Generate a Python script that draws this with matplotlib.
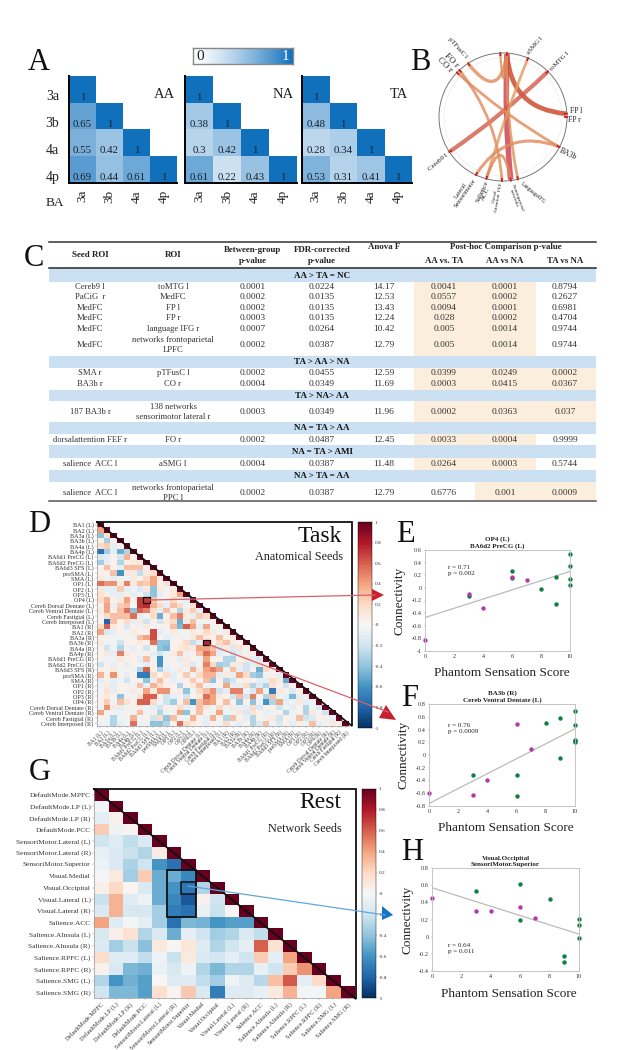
from matplotlib import pyplot as plt
from matplotlib.colors import LinearSegmentedColormap
from matplotlib.patches import Rectangle, PathPatch, Circle, Polygon
from matplotlib.path import Path
import numpy as np

plt.rcParams['font.family'] = ['Liberation Serif', 'DejaVu Serif']

W, H = 625, 1050

# panel A
ba_labels = ['3a', '3b', '4a', '4p']
aa_vals = [[1], [0.65, 1], [0.55, 0.42, 1], [0.69, 0.44, 0.61, 1]]
na_vals = [[1], [0.38, 1], [0.3, 0.42, 1], [0.61, 0.22, 0.43, 1]]
ta_vals = [[1], [0.48, 1], [0.28, 0.34, 1], [0.53, 0.31, 0.41, 1]]

# panel B, angle clockwise from the top
node_names = ['pTFusC', 'FO', 'CO', 'PaCiG', 'MedFC', 'aSMG', 'toMTG', 'FPl', 'FPr', 'BA3b',
              'IFG', 'LPFC', 'FEF', 'ACC', 'Lat', 'Cereb']
node_angles = [-33, -43, -46, -2.4, 3.6, 23, 44.6, 87, 90, 118, 166.5, 173, 181, 195, 205, 237]
chord_from = ['MedFC', 'MedFC', 'MedFC', 'pTFusC', 'PaCiG', 'Cereb', 'CO', 'FO', 'aSMG', 'Lat', 'ACC']
chord_to = ['FPl', 'LPFC', 'IFG', 'MedFC', 'MedFC', 'toMTG', 'BA3b', 'FEF', 'ACC', 'BA3b', 'LPFC']
chord_width = [3.4, 4.0, 2.0, 2.4, 1.6, 3.0, 2.0, 2.0, 2.0, 2.2, 2.0]
chord_color = ['#C8431F', '#C93A4A', '#E0925A', '#E08A58', '#E08A58', '#D45A48', '#E0885A', '#E0885A', '#E39A60', '#E0885A', '#E0885A']

# panel C
seed_col = ['Cereb9 l', 'PaCiG  r', 'MedFC', 'MedFC', 'MedFC', 'MedFC', 'SMA r', 'BA3b r', '187 BA3b r',
            'dorsalattention FEF r', 'salience  ACC l', 'salience  ACC l']
roi_col = ['toMTG l', 'MedFC', 'FP l', 'FP r', 'language IFG r', 'networks frontoparietal\nLPFC', 'pTFusC l', 'CO r',
           '138 networks\nsensorimotor lateral r', 'FO r', 'aSMG l', 'networks frontoparietal\nPPC l']
between_col = ['0.0001', '0.0002', '0.0002', '0.0003', '0.0007', '0.0002', '0.0002', '0.0004', '0.0003', '0.0002', '0.0004', '0.0002']
fdr_col = ['0.0224', '0.0135', '0.0135', '0.0135', '0.0264', '0.0387', '0.0455', '0.0349', '0.0349', '0.0487', '0.0387', '0.0387']
anova_col = ['14.17', '12.53', '13.43', '12.24', '10.42', '12.79', '12.59', '11.69', '11.96', '12.45', '11.48', '12.79']
aa_ta_col = ['0.0041', '0.0557', '0.0094', '0.028', '0.005', '0.005', '0.0399', '0.0003', '0.0002', '0.0033', '0.0264', '0.6776']
aa_na_col = ['0.0001', '0.0002', '0.0001', '0.0002', '0.0014', '0.0014', '0.0249', '0.0415', '0.0363', '0.0004', '0.0003', '0.001']
ta_na_col = ['0.8794', '0.2627', '0.6981', '0.4704', '0.9744', '0.9744', '0.0002', '0.0367', '0.037', '0.9999', '0.5744', '0.0009']
row_y = [287, 297, 308, 318, 329, 345, 373, 384, 412, 440, 464, 493]
band_text = ['AA > TA = NC', 'TA > AA > NA', 'TA > NA> AA', 'NA = TA > AA', 'NA = TA > AMI', 'NA > TA = AA']
band_y = [(269, 282), (356, 368), (390, 401), (422, 434), (445, 458), (470, 482)]
# which p-value columns are shaded (x0, x1) over (y0, y1)
shade_boxes = [(414, 536, 282, 356), (414, 596, 368, 390), (414, 596, 401, 422), (414, 536, 434, 445),
               (414, 536, 458, 470), (475, 596, 482, 500)]

# panel D
seed_names = ['BA1', 'BA2', 'BA3a', 'BA3b', 'BA4a', 'BA4p', 'BA6d1 PreCG', 'BA6d2 PreCG', 'BA6d3 SFS', 'preSMA', 'SMA',
              'OP1', 'OP2', 'OP3', 'OP4', 'Cereb Dorsal Dentate', 'Cereb Ventral Dentate', 'Cereb Fastigial', 'Cereb Interposed']
task_labels = [s + ' (L)' for s in seed_names] + [s + ' (R)' for s in seed_names]
task_rows = [
    [100],
    [40, 100],
    [-40, 15, 100],
    [5, -35, 5, 100],
    [20, 25, -10, 5, 100],
    [-75, -35, -10, -50, -30, 100],
    [-15, -10, 5, -20, 35, 5, 100],
    [-35, -10, 5, -30, 5, 10, 10, 100],
    [5, 30, 5, -10, 30, 30, 30, 5, 100],
    [5, 5, 30, -60, 10, 10, -25, 10, 20, 100],
    [10, -5, -10, -5, -5, 10, 5, 20, 40, 10, 100],
    [55, 45, 45, 10, 50, 10, 30, 25, 40, 5, 15, 100],
    [10, -10, -10, 25, -10, -5, -15, 10, -40, 10, -5, 10, 100],
    [15, 5, -10, -10, 5, -10, -5, -20, -40, -10, 5, 10, 40, 100],
    [20, 35, 5, 10, 40, 5, 70, 71, 30, 5, -5, 20, -5, -10, 100],
    [5, 40, -10, 25, 30, 0, 70, 75, 35, 20, -10, 30, 20, -5, 15, 100],
    [10, 40, 5, 30, 55, -40, 60, 50, 20, -10, 30, 5, -30, 10, 25, -10, 100],
    [5, 20, 30, 30, 30, 55, -10, -5, 20, -50, 5, 30, 50, 10, -10, 25, 20, 100],
    [5, -80, 30, 5, 20, -10, 10, -20, 5, -20, 10, 20, -50, 10, 30, -5, -5, 5, 100],
    [20, 60, 10, 5, -15, 5, -5, 10, -5, 5, 5, 30, -45, 60, 40, -10, 40, -5, 5, 100],
    [40, -15, -10, 5, -5, 10, 5, 5, 65, -10, -5, 10, -5, 5, 10, 5, 20, 10, -5, 10, 100],
    [5, 5, -5, -5, 5, -5, 30, 40, 65, 5, -10, -5, 5, -5, 10, 30, 10, 5, 30, 5, 10, 100],
    [10, -5, -5, -20, 5, 5, 10, 5, 55, -40, -40, 5, 5, 20, -25, -10, 76, 5, 20, 30, 10, 5, 100],
    [5, -20, -5, -30, -5, -10, 5, -20, 5, -40, -45, 5, 10, 15, 10, 40, 40, 30, -15, 10, -15, 15, 5, 100],
    [5, 10, -10, 50, 10, 5, -5, 5, -10, -20, -5, 10, 30, -5, 5, 30, 55, 40, -10, -5, -20, -10, 5, 5, 100],
    [5, -5, -5, 10, 5, 5, -10, 30, -5, -60, -5, 5, -10, 10, 5, -5, 40, 5, 5, -30, -30, 5, 10, -10, -15, 100],
    [-20, 5, -10, 5, -10, 5, -5, -10, 5, -60, -5, 5, -5, 10, -15, 5, 50, 20, -35, -30, 10, 10, -20, -10, 15, 5, 100],
    [5, 5, 10, -5, 5, -5, -30, 60, 5, -30, -10, -5, 10, -5, 35, 10, 40, 50, 40, -5, 30, -10, -20, 5, -50, 20, 5, 100],
    [35, 5, 45, 5, -10, 5, -70, -70, 20, 5, 20, -10, 5, 25, -5, 20, 35, 35, -10, 10, -10, 40, 20, -35, -40, -5, 5, -10, 100],
    [-10, 5, -10, -5, -20, 5, -5, -40, -10, 30, 5, -10, -5, 5, 25, 5, 30, -40, 5, -30, -20, 5, 5, 5, -10, -10, 20, 10, -50, 100],
    [-5, 10, -10, 5, 5, -5, 30, -10, 35, 20, 5, 5, -30, 5, 10, 30, -5, -5, 5, 40, -10, -10, 20, -30, -15, -30, 15, 5, -20, 5, 100],
    [-5, 15, -10, 5, -5, 10, -5, 40, 10, 45, 45, 5, 10, -40, -5, 20, 30, 45, -20, -10, 50, 50, -5, -15, 40, -5, -70, 10, 5, -15, 5, 100],
    [5, 10, 5, -40, 5, -5, 15, 60, 60, 5, -20, -10, -5, -20, 5, 10, 55, 40, 10, 5, -20, 30, -20, 50, 5, -30, 30, -5, -10, -45, -10, 5, 100],
    [5, 25, -5, 30, 15, 5, 60, 60, 20, -5, -20, -35, 5, 30, -60, 30, 45, 40, 5, 30, -5, -40, 5, -40, -5, -60, -30, 40, -10, -5, 10, -10, -5, 100],
    [-5, 45, 10, -10, -5, 5, 10, -5, -10, -20, 5, 5, 20, -10, -5, 30, 10, -5, 20, -5, 10, -10, -10, 20, -15, 5, 5, -20, -5, -10, 5, -30, -5, -15, 100],
    [40, 5, -5, -5, 5, -5, 30, -5, 5, -30, -5, -5, 40, -40, 5, 30, 5, -5, 40, -5, -5, 10, -15, 15, 5, -10, -5, 5, -30, -5, 5, -30, 10, -5, -20, 100],
    [5, -5, -30, -5, -5, 35, -5, 5, -20, 20, -40, 30, -5, -5, 35, 5, -10, 35, 5, -30, 30, 5, -10, -30, 5, -5, 10, -20, 5, -5, 30, -20, -15, 5, 5, -10, 100],
    [-5, -5, -30, -10, -5, 55, -5, -5, -40, -40, -30, 5, 55, 20, 10, 5, -10, 5, -5, 20, -5, -10, 5, -30, -15, 30, -5, -15, 5, -10, 5, -5, 30, -10, -5, 10, 5, 100],
]

# panel G
rest_labels = ['DefaultMode.MPFC', 'DefaultMode.LP (L)', 'DefaultMode.LP (R)', 'DefaultMode.PCC', 'SensoriMotor.Lateral (L)',
               'SensoriMotor.Lateral (R)', 'SensoriMotor.Superior', 'Visual.Medial', 'Visual.Occipital', 'Visual.Lateral (L)',
               'Visual.Lateral (R)', 'Salience.ACC', 'Salience.AInsula (L)', 'Salience.AInsula (R)', 'Salience.RPFC (L)',
               'Salience.RPFC (R)', 'Salience.SMG (L)', 'Salience.SMG (R)']
rest_rows = [
    [100],
    [-3, 100],
    [-10, 5, 100],
    [25, -5, 3, 100],
    [-20, -12, -25, -15, 100],
    [-8, -15, -22, -30, 8, 100],
    [-6, -15, -32, -20, -60, -75, 100],
    [-2, 10, -35, 25, -50, -50, -65, 100],
    [6, 20, 2, -15, -50, -60, -72, -30, 100],
    [-22, 35, -12, -5, -50, -65, -85, 5, -20, 100],
    [-15, 35, -17, -17, -35, -70, -75, -8, -22, 2, 100],
    [40, -12, -3, -10, -35, -75, -45, -47, -60, -55, -55, 100],
    [-17, 7, 15, -30, -15, -50, -10, -20, -35, -30, -15, -25, 100],
    [-15, -35, -22, -42, 10, 2, 12, -13, -30, -20, -10, 60, 15, 100],
    [18, -12, -12, -25, -5, -22, 10, -15, -18, -10, -20, 25, -10, 40, 100],
    [5, -15, -45, -48, -7, -17, -5, -30, -45, -30, -30, -8, -20, 25, 45, 100],
    [-30, -60, -48, -55, 0, -13, -13, -25, -35, -5, -13, -28, 30, 62, -10, 20, 100],
    [-20, -45, -45, -55, 17, 3, 27, -15, -70, -13, -13, -8, 10, 35, -3, -3, 40, 100],
]

# scatter panels
e_gx = [10, 10, 10, 10, 9, 9, 8, 6, 6, 3]
e_gy = [0.53, 0.35, 0.14, 0.05, 0.17, -0.26, -0.02, 0.26, 0.15, -0.13]
e_mx = [0, 3, 4, 6, 7]
e_my = [-0.82, -0.1, -0.32, 0.18, 0.12]
e_line = [-0.47, 0.26]
f_gx = [10, 10, 10, 10, 10, 9, 9, 8, 6, 6, 3]
f_gy = [0.69, 0.47, 0.24, 0.22, 0.2, 0.58, -0.05, 0.5, -0.32, -0.65, -0.31]
f_mx = [0, 3, 4, 6, 7]
f_my = [-0.59, -0.62, -0.39, 0.49, 0.1]
f_line = [-0.76, 0.41]
h_gx = [10, 10, 10, 9, 9, 8, 6, 6, 3]
h_gy = [0.21, 0.14, -0.01, -0.23, -0.3, 0.44, 0.61, 0.19, 0.53]
h_mx = [0, 3, 4, 6, 7]
h_my = [0.45, 0.3, 0.3, 0.34, 0.22]
h_line = [0.57, 0.03]

fig = plt.figure(figsize=(6.25, 10.5), dpi=100)


def px_axes(x0, y0, x1, y1, **kw):
    return fig.add_axes([x0 / W, 1 - y1 / H, (x1 - x0) / W, (y1 - y0) / H], **kw)


def tri_matrix(rows, scale=1.0):
    m = np.full((len(rows), len(rows)), np.nan)
    for i, row in enumerate(rows):
        m[i, :len(row)] = np.array(row) * scale
    return np.ma.masked_invalid(m)


# ---- A
blues = LinearSegmentedColormap.from_list('ba', ['#FFFFFF', '#1070BC'])
for vals, bounds, first in [(aa_vals, (69, 177), True), (na_vals, (185, 297), False), (ta_vals, (302, 412), False)]:
    ax = px_axes(bounds[0], 76, bounds[1], 183)
    ax.pcolormesh(tri_matrix(vals), cmap=blues, vmin=0, vmax=1)
    ax.set_xlim(0, 4)
    ax.set_ylim(4, 0)
    for i, row in enumerate(vals):
        for j, v in enumerate(row):
            ax.text(j + 0.5, i + 0.97, '%g' % v, ha='center', va='bottom', fontsize=7.8, color='#16202C')
    for s in ['top', 'right']:
        ax.spines[s].set_visible(False)
    ax.spines['left'].set_linewidth(1.4)
    ax.spines['bottom'].set_linewidth(1.4)
    ax.set_xticks(np.arange(4) + 0.5)
    ax.set_xticklabels(ba_labels, rotation=90, fontsize=9.5, color='#222222')
    ax.tick_params(length=0, pad=5)
    if first:
        ax.set_yticks(np.arange(4) + 0.72)
        ax.set_yticklabels(ba_labels, fontsize=10, color='#222222')
        ax.tick_params(axis='y', pad=7)
    else:
        ax.set_yticks([])

cb = px_axes(193, 48, 293, 64)
cb.imshow(np.linspace(0, 1, 200).reshape(1, -1) ** 1.3, aspect='auto', cmap=blues, vmin=0, vmax=1)
cb.set_xticks([])
cb.set_yticks([])
for s in cb.spines.values():
    s.set_color('#888888')
    s.set_linewidth(1)

# ---- B
bx = px_axes(423, 37, 583, 197)
bx.set_xlim(-80, 80)
bx.set_ylim(-80, 80)
bx.axis('off')
R = 64.0
bx.add_patch(Circle((0, 0), R, fill=False, edgecolor='#777777', linewidth=0.7))
bx.add_patch(Circle((0, 0), R - 5, fill=False, edgecolor='#E8E8E8', linewidth=0.4))


def node_xy(name, r=R - 1):
    a = np.radians(node_angles[node_names.index(name)])
    return r * np.sin(a), r * np.cos(a)


for a, b, lw, c in zip(chord_from, chord_to, chord_width, chord_color):
    p0, p1 = np.array(node_xy(a)), np.array(node_xy(b))
    ctrl = (p0 + p1) * 0.12
    path = Path([p0, ctrl, p1], [Path.MOVETO, Path.CURVE3, Path.CURVE3])
    bx.add_patch(PathPatch(path, fill=False, edgecolor=c, linewidth=lw, alpha=0.8, capstyle='butt'))
for name in node_names:
    p0, p1 = node_xy(name, R + 1), node_xy(name, R - 3)
    bx.plot([p0[0], p1[0]], [p0[1], p1[1]], color='#C81E1E', linewidth=1.3, solid_capstyle='butt')

# ---- full page layer for text and annotations
ov = px_axes(0, 0, W, H, zorder=10)
ov.set_xlim(0, W)
ov.set_ylim(H, 0)
ov.axis('off')
ov.patch.set_alpha(0)


def label(x, y, s, size=6, rot=0, weight='normal', color='#222222', ha='center', va='center', **kw):
    ov.text(x, y, s, fontsize=size, rotation=rot, fontweight=weight, color=color, ha=ha, va=va,
            rotation_mode='anchor', **kw)


for s, x, y in [('A', 39, 62), ('B', 420, 62), ('C', 34, 258), ('D', 39, 525), ('E', 405, 534), ('F', 410, 698),
                ('G', 40, 772), ('H', 412, 852)]:
    label(x, y, s, size=22, color='#111111')
for s, x in [('AA', 164), ('NA', 283), ('TA', 399)]:
    label(x, 95, s, size=10.5)
label(55, 203, 'BA', size=9.5)
label(200, 57, '0', size=11)
label(285, 56, '1', size=11, color='#FFFFFF')

for s, x, y, rot, size in [('pTFusC l', 458, 48, -48, 5), ('FO r', 451, 61, -45, 6.5), ('CO r', 445, 65, -45, 6.5),
                           ('aSMG l', 535, 46, 50, 5), ('toMTG l', 560, 61, 45, 5), ('FP l', 576, 111, 0, 5.5),
                           ('FP r', 574, 120, 0, 5.5), ('BA3b', 568, 154, -25, 5.5),
                           ('LanguageIFG', 533, 193, -40, 4), ('Frontoparietal\nnetworks', 516, 198, -70, 3.6),
                           ('Dorsal\nAttention. FEF', 497, 197, 80, 3.6), ('Salience\nACC', 484, 193, 65, 5),
                           ('Lateral\nSensorimotor', 463, 192, 55, 4.5), ('Cereb9 l', 438, 162, 40, 5)]:
    label(x, y, s, size=size, rot=rot, linespacing=0.9)

# ---- C
for y0, y1, s in [(b[0], b[1], t) for b, t in zip(band_y, band_text)]:
    ov.add_patch(Rectangle((49, y0), 547, y1 - y0, facecolor='#CBE1F3', edgecolor='none', zorder=0))
    label(322, (y0 + y1) / 2, s, size=6.5, weight='bold', color='#111111')
for x0, x1, y0, y1 in shade_boxes:
    ov.add_patch(Rectangle((x0, y0), x1 - x0, y1 - y0, facecolor='#FCEEDC', edgecolor='none', zorder=0))
ov.plot([49, 596], [242, 242], color='#333333', linewidth=1.1)
ov.plot([49, 596], [268, 268], color='#222222', linewidth=1.1)
ov.plot([49, 596], [501, 501], color='#555555', linewidth=1.1)
col_x = [90, 173, 253, 322, 384, 444, 505, 565]
for s, x, y in [('Seed ROI', 90, 255), ('ROI', 173, 255), ('Between-group', 253, 250), ('p-value', 253, 261),
                ('FDR-corrected', 322, 250), ('p-value', 322, 261), ('Anova F', 384, 247),
                ('Post-hoc Comparison p-value', 506, 247), ('AA vs. TA', 444, 261), ('AA vs NA', 505, 261),
                ('TA vs NA', 565, 261)]:
    label(x, y, s, size=6.4, weight='bold', color='#222222')
for col, x, size in zip([seed_col, roi_col, between_col, fdr_col, anova_col, aa_ta_col, aa_na_col, ta_na_col], col_x,
                        [6.2, 6.2, 6.8, 6.8, 6.8, 6.8, 6.8, 6.8]):
    for s, y in zip(col, row_y):
        label(x, y, s, size=size, color='#333333', linespacing=1.2)


# ---- D and G
def heatmap(rows, labels, box, ysize, xsize, cbar_box):
    ax = px_axes(*box)
    mesh = ax.pcolormesh(tri_matrix(rows, 0.01), cmap='RdBu_r', vmin=-1, vmax=1)
    n = len(rows)
    ax.set_xlim(0, n)
    ax.set_ylim(n, 0)
    for s in ['top', 'right']:
        ax.spines[s].set_visible(False)
    for s in ['left', 'bottom']:
        ax.spines[s].set_color('#999999')
        ax.spines[s].set_linewidth(0.5)
    ax.set_xticks(np.arange(n) + 0.5)
    ax.set_yticks(np.arange(n) + 0.5)
    ax.set_xticklabels(labels, rotation=45, ha='right', rotation_mode='anchor', fontsize=xsize, color='#333333')
    ax.set_yticklabels(labels, fontsize=ysize, color='#333333')
    ax.tick_params(length=1.5, width=0.3, color='#888888', pad=1)
    cax = px_axes(*cbar_box)
    cbar = fig.colorbar(mesh, cax=cax)
    ticks = np.round(np.arange(-1, 1.01, 0.2), 1)
    cbar.set_ticks(ticks)
    cbar.set_ticklabels(['%g' % t for t in ticks])
    cbar.ax.tick_params(labelsize=3.8, length=1, width=0.3, color='#888888', pad=1, labelcolor='#333333')
    cbar.outline.set_linewidth(0.3)
    return ax


task_ax = heatmap(task_rows, task_labels, (97, 522, 349, 726), 4.4, 4, (358, 522, 372, 728))
rest_ax = heatmap(rest_rows, rest_labels, (94, 789, 355, 998), 5.3, 4.5, (362, 789, 376, 998))

task_ax.add_patch(Rectangle((7, 14), 1, 1, fill=False, edgecolor='#111111', linewidth=0.9))
task_ax.add_patch(Rectangle((16, 22), 1, 1, fill=False, edgecolor='#111111', linewidth=0.9))
rest_ax.add_patch(Rectangle((5, 7), 2, 4, fill=False, edgecolor='#111111', linewidth=1.3))
rest_ax.add_patch(Rectangle((6, 8), 1, 1, fill=False, edgecolor='#111111', linewidth=1.1))

# triangle frames
ov.plot([97, 352, 352, 97], [522, 522, 726, 522], color='#111111', linewidth=1.3, solid_joinstyle='miter')
ov.plot([94, 356, 356, 94], [789, 789, 999, 789], color='#111111', linewidth=1.3, solid_joinstyle='miter')

label(320, 537, 'Task', size=17, color='#111111')
label(299, 557, 'Anatomical Seeds', size=8.7)
label(320, 803, 'Rest', size=17, color='#111111')
label(305, 829, 'Network Seeds', size=8.7)

# arrows
ov.plot([150, 375], [600, 595], color='#D8606A', linewidth=0.9)
ov.add_patch(Polygon([[372, 589], [372, 601], [384, 595]], closed=True, facecolor='#C8202E', edgecolor='none'))
ov.plot([210, 388], [645, 712], color='#D8606A', linewidth=0.9)
ov.add_patch(Polygon([[386, 705], [379, 718], [396, 720]], closed=True, facecolor='#C8202E', edgecolor='none'))
ov.plot([188, 385], [886, 915], color='#5FA8DC', linewidth=0.9)
ov.add_patch(Polygon([[382, 906], [382, 920], [393, 915]], closed=True, facecolor='#1274C4', edgecolor='none'))


# ---- E F H
def scatter_panel(box, gx, gy, mx, my, line, ylim, yticks, title, stats, stats_x, stats_y, xlab_y):
    ax = px_axes(*box)
    ax.plot([0, 10], line, color='#BBBBBB', linewidth=0.9, zorder=1)
    ax.scatter(gx, gy, s=10, color='#0E8040', zorder=2, clip_on=False, linewidths=0)
    ax.scatter(mx, my, s=10, color='#B23AA8', zorder=2, clip_on=False, linewidths=0)
    ax.set_xlim(0, 10)
    ax.set_ylim(*ylim)
    ax.set_xticks([0, 2, 4, 6, 8, 10])
    ax.set_yticks(yticks)
    ax.set_yticklabels(['%g' % t for t in yticks])
    ax.tick_params(labelsize=4.5, length=1, width=0.3, pad=1.5, color='#999999', labelcolor='#333333')
    for s in ax.spines.values():
        s.set_color('#BBBBBB')
        s.set_linewidth(0.6)
    ax.text(0.5, 1.01, title, transform=ax.transAxes, ha='center', va='bottom', fontsize=5, fontweight='bold',
            color='#222222', linespacing=1.2)
    ax.text(stats_x, stats_y, stats, transform=ax.transAxes, ha='left', va='center', fontsize=5, color='#222222',
            linespacing=1.3)
    ov.text(box[0] - 25, (box[1] + box[3]) / 2, 'Connectivity', rotation=90, fontsize=9.5, ha='center', va='center',
            color='#222222')
    ov.text(box[0] + 77, xlab_y, 'Phantom Sensation Score', fontsize=9.5, ha='center', va='center', color='#222222')


scatter_panel((425, 550, 570, 651), e_gx, e_gy, e_mx, e_my, e_line, (-1, 0.6), [-1, -0.8, -0.6, -0.4, -0.2, 0, 0.2, 0.4, 0.6],
              'OP4 (L)\nBA6d2 PreCG (L)', 'r = 0.71\np = 0.002', 0.16, 0.80, 673)
scatter_panel((429, 704, 575, 806), f_gx, f_gy, f_mx, f_my, f_line, (-0.8, 0.8), [-0.8, -0.6, -0.4, -0.2, 0, 0.2, 0.4, 0.6, 0.8],
              'BA3b (R)\nCereb Ventral Dentate (L)', 'r = 0.76\np = 0.0009', 0.13, 0.76, 828)
scatter_panel((432, 868, 579, 971), h_gx, h_gy, h_mx, h_my, h_line, (-0.4, 0.8), [-0.4, -0.2, 0, 0.2, 0.4, 0.6, 0.8],
              'Visual.Occipital\nSensoriMotor.Superior', 'r = 0.64\np = 0.011', 0.11, 0.22, 994)

fig.savefig('out.png', dpi=100)
